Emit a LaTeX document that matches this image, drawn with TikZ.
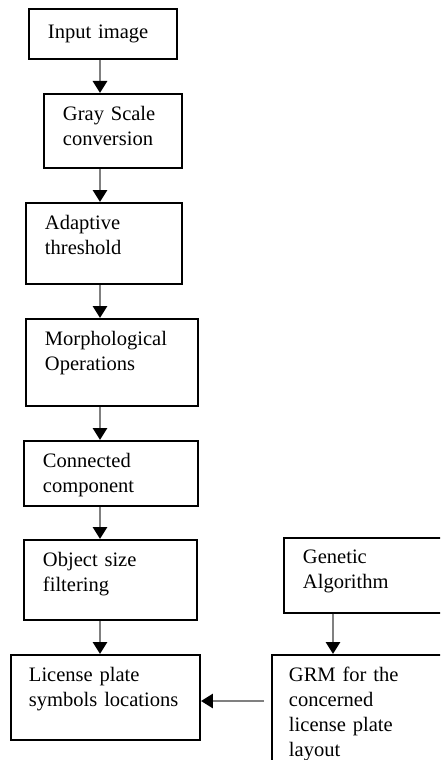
\documentclass[tikz,border=0pt]{standalone}
\usepackage{fontspec}
\setmainfont{Liberation Serif}
\usetikzlibrary{arrows.meta}

\begin{document}
\begin{tikzpicture}[
    stage/.style={draw, line width=1.4pt, anchor=north west, align=left,
        inner xsep=0.475cm, inner ysep=0.3cm,
        font=\fontsize{14.6}{17.8}\selectfont},
    flow/.style={gray, line width=2pt,
        -{Triangle[length=0.3cm, width=0.35cm, color=black]}}
]
    \useasboundingbox (0,0) rectangle (11,-19);
    \clip (0,0) rectangle (11,-19);
    \coordinate (spine) at (2.5,0);
    \coordinate (branch) at (8.325,0);
    \coordinate (join) at (0,-17.525);

    \node[stage, inner ysep=0.4cm, text width=2.75cm] (input) at (0.7,-0.2) {Input image};
    \node[stage, text width=2.5cm, text depth=0.9cm] (gray) at (1.075,-2.325) {Gray Scale\\conversion};
    \node[stage, text width=2.95cm, text depth=1.075cm] (adaptive) at (0.625,-5.05) {Adaptive\\threshold};
    \node[stage, text width=3.35cm, text depth=1.225cm] (morph) at (0.625,-7.95) {Morphological\\Operations};
    \node[stage, text width=3.4cm, text depth=0.675cm] (connected) at (0.575,-11) {Connected\\component};
    \node[stage, text width=3.375cm, text depth=1.05cm] (filtering) at (0.575,-13.475) {Object size\\filtering};
    \node[stage, inner xsep=0.45cm, text width=3.825cm, text depth=1.175cm] (locations) at (0.25,-16.35) {License plate\\symbols locations};

    \node[stage, text width=4.05cm, text depth=0.925cm] (genetic) at (7.075,-13.425) {Genetic\\Algorithm};
    \node[stage, inner xsep=0.425cm, text width=4.15cm, text depth=2.375cm] (grm) at (6.775,-16.35) {GRM for the\\concerned\\license plate\\layout};

    \draw[flow] (input.south -| spine) -- (gray.north -| spine);
    \draw[flow] (gray.south -| spine) -- (adaptive.north -| spine);
    \draw[flow] (adaptive.south -| spine) -- (morph.north -| spine);
    \draw[flow] (morph.south -| spine) -- (connected.north -| spine);
    \draw[flow] (connected.south -| spine) -- (filtering.north -| spine);
    \draw[flow] (filtering.south -| spine) -- (locations.north -| spine);
    \draw[flow] (genetic.south -| branch) -- (grm.north -| branch);
    \draw[flow, shorten <=0.175cm] (grm.west |- join) -- (locations.east |- join);
\end{tikzpicture}
\end{document}
